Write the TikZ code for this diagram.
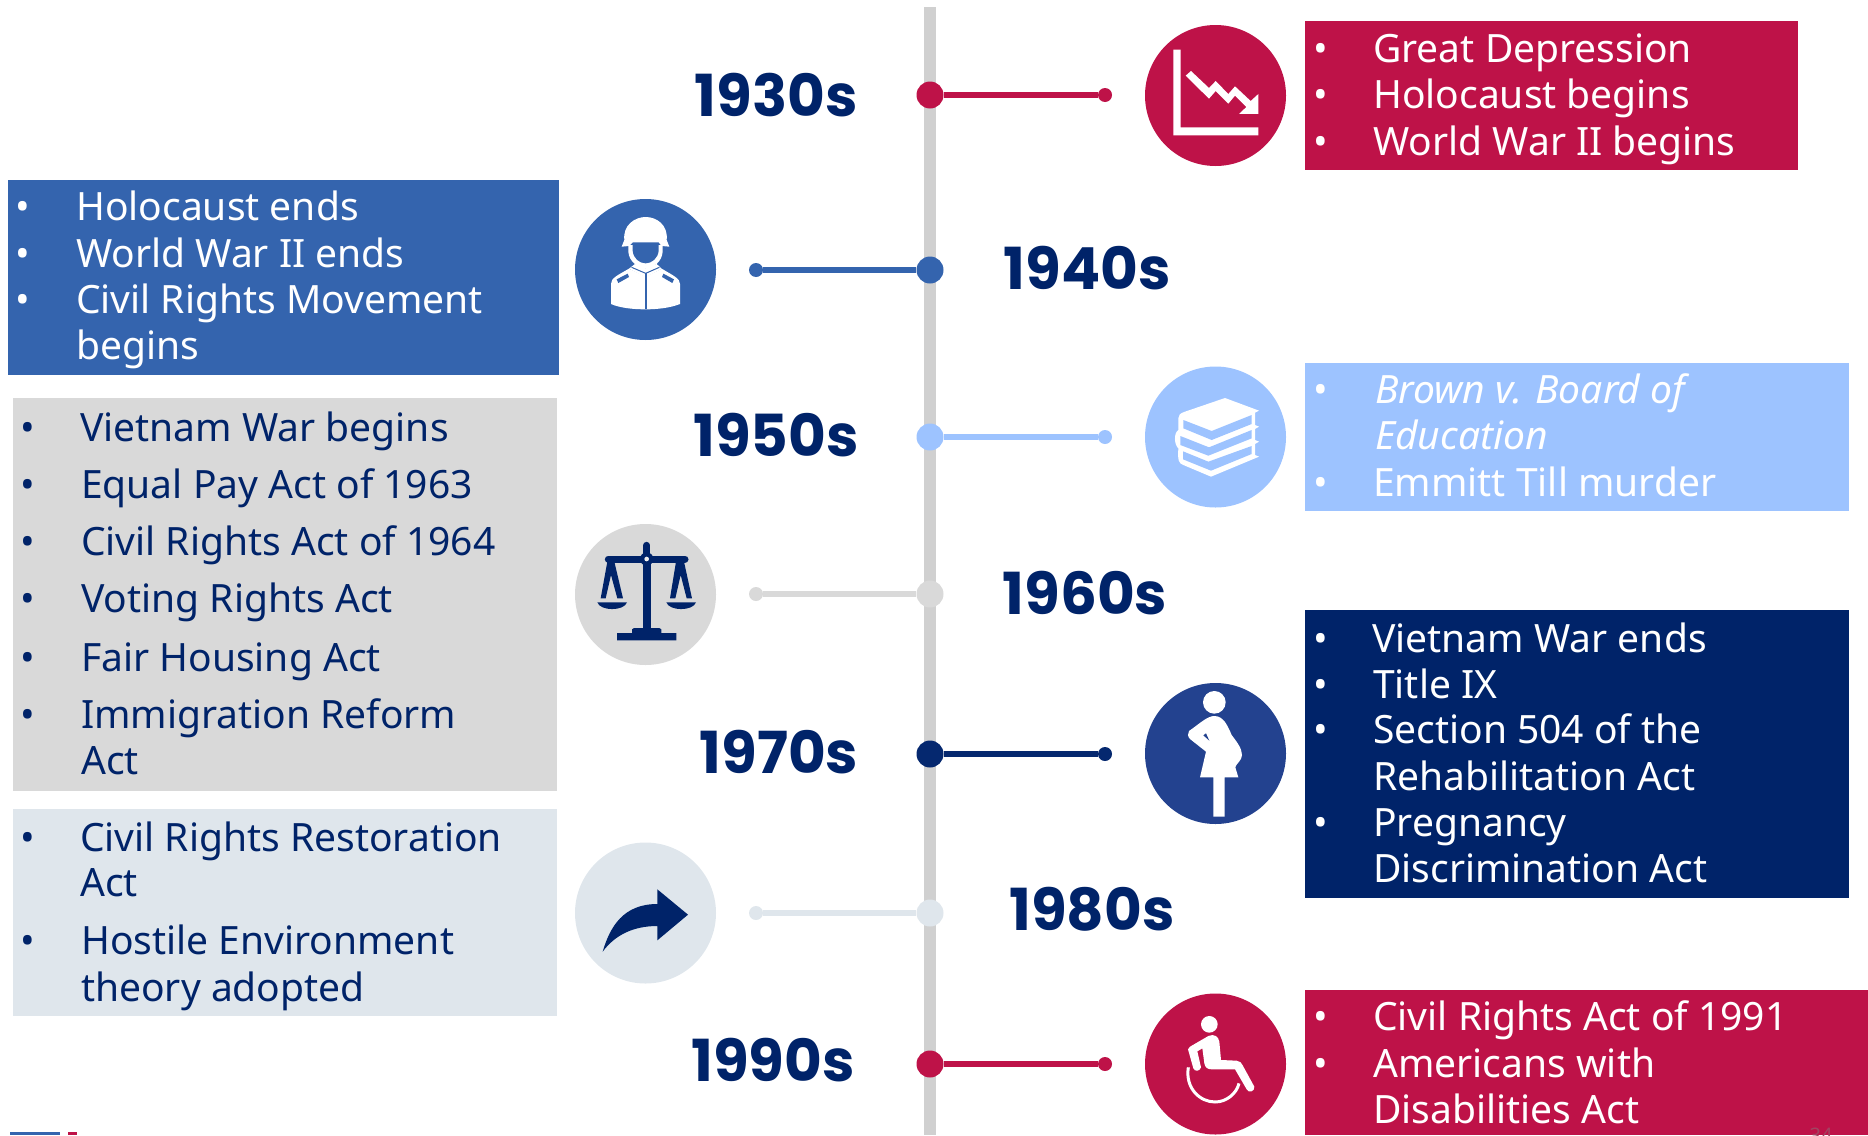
\documentclass[tikz,border=0pt]{standalone}
\usepackage{fontspec}
\setmainfont{Noto Sans}
\newfontfamily\yearfont{Poppins}
\usetikzlibrary{positioning}
\definecolor{crimson}{HTML}{BE1248}
\definecolor{midblue}{HTML}{3464AE}
\definecolor{skyblue}{HTML}{9DC3FF}
\definecolor{navyblue}{HTML}{002369}
\definecolor{royalblue}{HTML}{23428F}
\definecolor{midgray}{HTML}{D9D9D9}
\definecolor{palegray}{HTML}{DFE6EC}
\definecolor{spinegray}{HTML}{D0D0D0}
\tikzset{
    box/.style = {rectangle, anchor=north west, inner sep=0pt, outer sep=0pt},
    badge/.style = {circle, minimum size=141pt, inner sep=0pt},
    bigdot/.style = {circle, minimum size=27pt, inner sep=0pt},
    smalldot/.style = {circle, minimum size=14pt, inner sep=0pt},
    year/.style = {font=\yearfont\bfseries\fontsize{58}{58}\selectfont, text=navyblue},
    row/.style = {anchor=base west, inner sep=0pt, font=\fontsize{39}{39}\selectfont},
    tick/.style = {anchor=base, inner sep=0pt, font=\fontsize{39}{39}\selectfont},
    edgeline/.style = {line width=5.5pt},
    zoomed/.style 2 args = {shift={(#1pt,-#2pt)}, x=0.33333pt, y=-0.33333pt}
}
\begin{document}
\begin{tikzpicture}[x=1pt,y=-1pt]
\useasboundingbox (0,0) rectangle (1868,1135);
%
\coordinate (spinetop) at (930,7);
\coordinate (spinebot) at (930,1135);
\draw[spinegray,line width=12pt] (spinetop) -- (spinebot);
%
\node[box,fill=crimson,minimum width=493pt,minimum height=149pt] at (1305,21) (box30) {};
\node[box,fill=midblue,minimum width=551pt,minimum height=195pt] at (8,180) (box40) {};
\node[box,fill=skyblue,minimum width=544pt,minimum height=148pt] at (1305,363) (box50) {};
\node[box,fill=midgray,minimum width=544pt,minimum height=393pt] at (13,398) (box60) {};
\node[box,fill=navyblue,minimum width=544pt,minimum height=288pt] at (1305,610) (box70) {};
\node[box,fill=palegray,minimum width=544pt,minimum height=207pt] at (13,809) (box80) {};
\node[box,fill=crimson,minimum width=563pt,minimum height=145pt] at (1305,990) (box90) {};
%
\node[badge,fill=crimson] at (1215.5,95.5) (icon30) {};
\node[badge,fill=midblue] at (645.5,269.5) (icon40) {};
\node[badge,fill=skyblue] at (1215.5,437) (icon50) {};
\node[badge,fill=midgray] at (645.5,594.5) (icon60) {};
\node[badge,fill=royalblue] at (1215.5,753.5) (icon70) {};
\node[badge,fill=palegray] at (645.5,913) (icon80) {};
\node[badge,fill=crimson] at (1215.5,1064) (icon90) {};
%
\node[bigdot,fill=crimson] at (930,95) (hub30) {};
\node[bigdot,fill=midblue] at (930,270) (hub40) {};
\node[bigdot,fill=skyblue] at (930,437) (hub50) {};
\node[bigdot,fill=midgray] at (930,594) (hub60) {};
\node[bigdot,fill=navyblue!85!royalblue] at (930,754) (hub70) {};
\node[bigdot,fill=palegray] at (930,913) (hub80) {};
\node[bigdot,fill=crimson] at (930,1064) (hub90) {};
\node[smalldot,fill=crimson] at (1105,95) (end30) {};
\node[smalldot,fill=midblue] at (756,270) (end40) {};
\node[smalldot,fill=skyblue] at (1105,437) (end50) {};
\node[smalldot,fill=midgray] at (756,594) (end60) {};
\node[smalldot,fill=navyblue!85!royalblue] at (1105,754) (end70) {};
\node[smalldot,fill=palegray] at (756,913) (end80) {};
\node[smalldot,fill=crimson] at (1105,1064) (end90) {};
\draw[edgeline,crimson] (hub30) -- (end30);
\draw[edgeline,midblue] (hub40) -- (end40);
\draw[edgeline,skyblue] (hub50) -- (end50);
\draw[edgeline,midgray] (hub60) -- (end60);
\draw[edgeline,navyblue!85!royalblue] (hub70) -- (end70);
\draw[edgeline,palegray] (hub80) -- (end80);
\draw[edgeline,crimson] (hub90) -- (end90);
%
\node[year] at (776,95) (year30) {1930s};
\node[year] at (1087,268) (year40) {1940s};
\node[year] at (776,435) (year50) {1950s};
\node[year] at (1085,593) (year60) {1960s};
\node[year] at (779,752) (year70) {1970s};
\node[year] at (1092,909) (year80) {1980s};
\node[year] at (773,1060) (year90) {1990s};
%
\node[tick,white] at (1321,62) (b30a) {•};
\node[tick,white] at (1321,108) (b30b) {•};
\node[tick,white] at (1321,155) (b30c) {•};
\node[row,white] at (1373,62) (t30a) {Great Depression};
\node[row,white] at (1373,108) (t30b) {Holocaust begins};
\node[row,white] at (1373,155) (t30c) {World War II begins};
%
\node[tick,white] at (23,220) (b40a) {•};
\node[tick,white] at (23,267) (b40b) {•};
\node[tick,white] at (23,313) (b40c) {•};
\node[row,white] at (76,220) (t40a) {Holocaust ends};
\node[row,white] at (76,267) (t40b) {World War II ends};
\node[row,white] at (76,313) (t40c) {Civil Rights Movement};
\node[row,white] at (76,359) (t40d) {begins};
%
\node[tick,white] at (1321,403) (b50a) {•};
\node[tick,white] at (1321,496) (b50b) {•};
\node[row,white,font=\fontsize{39}{39}\selectfont\itshape] at (1375,403) (t50a) {Brown v. Board of};
\node[row,white,font=\fontsize{39}{39}\selectfont\itshape] at (1375,449) (t50b) {Education};
\node[row,white] at (1373,496) (t50c) {Emmitt Till murder};
%
\node[tick,navyblue] at (28,441) (b60a) {•};
\node[tick,navyblue] at (28,498) (b60b) {•};
\node[tick,navyblue] at (28,555) (b60c) {•};
\node[tick,navyblue] at (28,612) (b60d) {•};
\node[tick,navyblue] at (28,671) (b60e) {•};
\node[tick,navyblue] at (28,728) (b60f) {•};
\node[row,navyblue] at (80,441) (t60a) {Vietnam War begins};
\node[row,navyblue] at (81,498) (t60b) {Equal Pay Act of 1963};
\node[row,navyblue] at (81,555) (t60c) {Civil Rights Act of 1964};
\node[row,navyblue] at (81,612) (t60d) {Voting Rights Act};
\node[row,navyblue] at (81,671) (t60e) {Fair Housing Act};
\node[row,navyblue] at (81,728) (t60f) {Immigration Reform};
\node[row,navyblue] at (81,774) (t60g) {Act};
%
\node[tick,white] at (1321,652) (b70a) {•};
\node[tick,white] at (1321,698) (b70b) {•};
\node[tick,white] at (1321,743) (b70c) {•};
\node[tick,white] at (1321,836) (b70d) {•};
\node[row,white] at (1372,652) (t70a) {Vietnam War ends};
\node[row,white] at (1373,698) (t70b) {Title IX};
\node[row,white] at (1373,743) (t70c) {Section 504 of the};
\node[row,white] at (1373,790) (t70d) {Rehabilitation Act};
\node[row,white] at (1373,836) (t70e) {Pregnancy};
\node[row,white] at (1373,882) (t70f) {Discrimination Act};
%
\node[tick,navyblue] at (28,851) (b80a) {•};
\node[tick,navyblue] at (28,954) (b80b) {•};
\node[row,navyblue] at (80,851) (t80a) {Civil Rights Restoration};
\node[row,navyblue] at (80,896) (t80b) {Act};
\node[row,navyblue] at (81,954) (t80c) {Hostile Environment};
\node[row,navyblue] at (81,1001) (t80d) {theory adopted};
%
\node[tick,white] at (1321,1030) (b90a) {•};
\node[tick,white] at (1321,1077) (b90b) {•};
\node[row,white] at (1373,1030) (t90a) {Civil Rights Act of 1991};
\node[row,white] at (1373,1077) (t90b) {Americans with};
\node[row,white] at (1373,1123) (t90c) {Disabilities Act};
%
\node[anchor=base,inner sep=0pt,font=\fontsize{20}{20}\selectfont,text=crimson!55!gray] at (1821,1142) (pagenum) {34};
\fill[midblue] (10,1132) rectangle (60,1135);
\fill[crimson] (68,1132) rectangle (77,1135);
%
% falling chart
\begin{scope}[zoomed={1120}{0}]
\fill[white] (160,149) -- (182,149) -- (182,382) -- (415,382) -- (415,406) -- (160,406) -- cycle;
\fill[white] (197,227) -- (213,213) -- (267,264) -- (287,243) -- (325,282) -- (345,259) -- (392,303) -- (415,282) -- (415,342) -- (357,342) -- (379,321) -- (345,287) -- (325,311) -- (287,273) -- (267,296) -- cycle;
\end{scope}
% soldier
\begin{scope}[zoomed={560}{180}]
\fill[white] (205,195) -- (205,215) .. controls (207,245) and (235,265) .. (257,265) .. controls (280,265) and (306,245) .. (308,215) -- (308,195) -- cycle;
\fill[midblue] (218,187) -- (296,187) -- (296,212) .. controls (294,235) and (275,250) .. (257,250) .. controls (238,250) and (220,235) .. (218,212) -- cycle;
\fill[white] (185,200) -- (193,180) .. controls (188,135) and (225,111) .. (257,111) .. controls (290,111) and (325,135) .. (320,180) -- (328,200) -- (305,198) -- (296,187) -- (218,187) -- (208,198) -- cycle;
\fill[white] (153,372) -- (153,312) .. controls (153,295) and (170,287) .. (207,266) -- (257,290) -- (305,266) .. controls (340,287) and (360,295) .. (360,312) -- (360,372) .. controls (330,384) and (290,388) .. (257,388) .. controls (220,388) and (180,384) .. (153,372) -- cycle;
\fill[white] (207,266) -- (225,252) -- (257,265) -- (290,252) -- (305,266) -- (257,292) -- cycle;
\draw[midblue,line width=1pt] (215,262) -- (257,280) -- (298,262);
\fill[midblue] (254,280) rectangle (260,388);
\fill[midblue] (170,298) -- (203,281) -- (207,291) -- (175,309) -- cycle;
\fill[midblue] (310,281) -- (342,298) -- (337,309) -- (306,291) -- cycle;
\end{scope}
% books
\begin{scope}[zoomed={1120}{350}]
\fill[white] (315,144) -- (417,182) -- (405,188) -- (405,225) -- (417,230) -- (405,237) -- (405,270) -- (417,275) -- (405,282) -- (405,315) -- (417,320) -- (273,380) -- (190,345) .. controls (175,340) and (173,330) .. (175,295) .. controls (163,285) and (160,250) .. (175,240) -- (175,205) .. controls (175,195) and (180,190) .. (195,185) -- cycle;
\fill[skyblue] (190,210) -- (275,243) -- (395,195) -- (395,222) -- (275,270) -- (190,235) -- cycle;
\fill[skyblue] (181,258) -- (267,292) -- (395,240) -- (395,265) -- (265,317) -- (181,285) -- cycle;
\fill[skyblue] (189,304) -- (265,335) -- (395,288) -- (395,312) -- (273,362) -- (189,328) -- cycle;
\end{scope}
% scales
\begin{scope}[zoomed={560}{510}]
\draw[navyblue,line width=7pt,line cap=round] (260,106) -- (260,140);
\draw[navyblue,line width=7pt,line cap=round] (145,147) -- (375,147);
\fill[navyblue] (249,147) rectangle (272,365);
\fill[navyblue] (260,147) circle (20);
\fill[midgray!40!white] (260,147) circle (7);
\fill[navyblue] (216,369) -- (216,358) -- (222,354) -- (298,354) -- (304,358) -- (304,369) -- (349,369) -- (349,391) -- (171,391) -- (171,369) -- cycle;
\fill[navyblue] (142,155) -- (122,265) -- (137,265) -- (153,195) -- (172,265) -- (189,265) -- (163,155) -- cycle;
\fill[navyblue] (348,155) -- (330,265) -- (346,265) -- (362,195) -- (380,265) -- (396,265) -- (372,155) -- cycle;
\fill[navyblue] (112,277) -- (201,277) .. controls (192,304) and (121,304) .. (112,277) -- cycle;
\fill[navyblue] (319,277) -- (408,277) .. controls (399,304) and (328,304) .. (319,277) -- cycle;
\end{scope}
% expecting mother
\begin{scope}[zoomed={1120}{670}]
\fill[white] (283,97) circle (34);
\fill[white] (283,138) .. controls (262,138) and (240,160) .. (207,183) .. controls (202,190) and (203,200) .. (210,207) -- (258,245) -- (240,322) -- (280,322) -- (280,440) -- (314,440) -- (314,322) -- (355,322) -- (346,292) .. controls (347,282) and (366,272) .. (366,255) .. controls (366,235) and (350,215) .. (335,195) .. controls (322,165) and (310,138) .. (283,138) -- cycle;
\fill[royalblue] (250,196) -- (258,190) -- (268,212) -- cycle;
\end{scope}
% share arrow
\begin{scope}[zoomed={560}{830}]
\fill[navyblue] (128,365) .. controls (150,290) and (190,222) .. (292,222) -- (292,178) -- (384,254) -- (292,331) -- (292,288) .. controls (220,288) and (165,315) .. (128,365) -- cycle;
\end{scope}
% wheelchair
\begin{scope}[zoomed={1120}{980}]
\fill[white] (268,133) circle (25);
\fill[white] (204,208) .. controls (204,204) and (206,202) .. (210,200) -- (265,168) .. controls (282,160) and (296,170) .. (298,185) -- (303,240) -- (350,242) .. controls (360,242) and (365,250) .. (368,256) -- (403,320) .. controls (405,335) and (385,340) .. (380,328) -- (345,268) -- (275,268) .. controls (262,268) and (255,262) .. (253,250) -- (247,205) -- (232,214) -- (243,262) .. controls (240,274) and (224,276) .. (220,265) -- cycle;
\draw[white,line width=3pt] (205,262) .. controls (195,325) and (240,366) .. (285,366) .. controls (320,366) and (350,340) .. (357,310);
\end{scope}
\end{tikzpicture}
\end{document}
